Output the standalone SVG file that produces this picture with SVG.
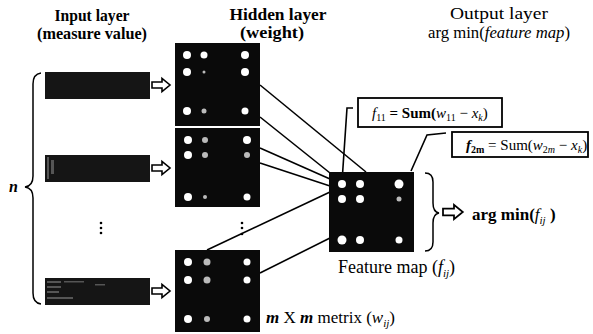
<svg xmlns="http://www.w3.org/2000/svg" width="593" height="334" viewBox="0 0 593 334">
<style>
.t{font-family:"Liberation Serif","Times New Roman",serif;fill:#000}
.b{font-weight:bold}
.i{font-style:italic}
.bar{fill:#151515}
.mat{fill:#0a0a0a}
.dot{fill:#fff}
.dim{fill:#bbb}
.ln{stroke:#000;stroke-width:1.6;fill:none}
.arr{fill:#fff;stroke:#000;stroke-width:1.6;stroke-linejoin:miter}
.box{fill:#fff;stroke:#000;stroke-width:1.8}
.br{fill:none;stroke:#000;stroke-width:1.5}
</style>
<defs>
<path id="harrow" d="M0,-3 H10 V-6.5 L18,0 L10,6.5 V3 H0 Z"/>
</defs>

<g id="headers">
<text class="t b" x="92" y="21" font-size="16" text-anchor="middle" textLength="75" lengthAdjust="spacingAndGlyphs">Input layer</text>
<text class="t b" x="92" y="39" font-size="16" text-anchor="middle" textLength="110" lengthAdjust="spacingAndGlyphs">(measure value)</text>
<text class="t b" x="278" y="20" font-size="16" text-anchor="middle" textLength="97" lengthAdjust="spacingAndGlyphs">Hidden layer</text>
<text class="t b" x="272" y="38" font-size="16" text-anchor="middle" textLength="64" lengthAdjust="spacingAndGlyphs">(weight)</text>
<text class="t" x="499" y="19" font-size="17" text-anchor="middle" textLength="98" lengthAdjust="spacingAndGlyphs">Output layer</text>
<text class="t" x="499" y="38" font-size="17" text-anchor="middle" textLength="142" lengthAdjust="spacingAndGlyphs">arg min(<tspan class="i">feature map</tspan>)</text>
</g>

<g id="connectors">
<line class="ln" x1="260" y1="85" x2="366" y2="172"/>
<line class="ln" x1="260" y1="117" x2="330" y2="173"/>
<line class="ln" x1="260" y1="148" x2="330" y2="179"/>
<line class="ln" x1="260" y1="163" x2="330" y2="186"/>
<line class="ln" x1="207" y1="250" x2="330" y2="192"/>
<line class="ln" x1="260" y1="273" x2="330" y2="238"/>
<use href="#harrow" x="152" y="85" class="arr"/>
<use href="#harrow" x="152" y="168" class="arr"/>
<use href="#harrow" x="152" y="291" class="arr"/>
<polyline class="ln" stroke-width="1.3" points="353,108 347,108 342,182"/>
<polyline class="ln" stroke-width="1.3" points="446,133 427,135 411,171"/>
<use href="#harrow" x="443" y="212" class="arr" transform="translate(443,212) scale(1.1) translate(-443,-212)"/>
</g>

<g id="input-bars">
<rect class="bar" x="45" y="72" width="105" height="27"/>
<rect class="bar" x="45" y="155" width="105" height="27"/>
<rect class="bar" x="45" y="278" width="105" height="27"/>
<g fill="#555">
<rect x="47" y="157" width="2" height="22"/><rect x="51" y="160" width="3" height="14"/>
<rect x="47" y="281" width="14" height="2"/><rect x="47" y="286" width="14" height="2"/><rect x="47" y="291" width="12" height="2"/><rect x="47" y="297" width="26" height="2"/>
<rect x="64" y="281" width="20" height="1.5"/><rect x="95" y="284" width="10" height="1.5"/>
</g>
</g>

<g id="ellipsis" fill="#000">
<circle cx="101" cy="223" r="1.3"/><circle cx="101" cy="228" r="1.3"/><circle cx="101" cy="233" r="1.3"/>
<circle cx="242" cy="223" r="1.3"/><circle cx="242" cy="228" r="1.3"/><circle cx="242" cy="234" r="1.3"/>
</g>

<g id="brace-n">
<path class="br" d="M41,73 Q33,74 33,84 V176 Q33,186 25,187 Q33,188 33,198 V293 Q33,303 41,304"/>
<text class="t b i" x="9" y="192" font-size="16">n</text>
</g>

<g id="matrix1">
<rect class="mat" x="175" y="43" width="85" height="83"/>
<circle class="dot" cx="187" cy="55" r="4"/><circle class="dot" cx="204" cy="55" r="3.5"/><circle class="dot" cx="245" cy="55" r="4"/>
<circle class="dot" cx="187" cy="72" r="4"/><circle class="dim" cx="204" cy="72" r="1.5"/><circle class="dot" cx="245" cy="72" r="4"/>
<circle class="dot" cx="187" cy="111" r="4"/><circle class="dim" cx="204" cy="111" r="2.5"/><circle class="dot" cx="245" cy="111" r="3.5"/>
</g>

<g id="matrix2">
<rect class="mat" x="175" y="128" width="85" height="79"/>
<circle class="dot" cx="188" cy="140" r="4"/><circle class="dim" cx="205" cy="140" r="3"/><circle class="dot" cx="247" cy="140" r="4"/>
<circle class="dot" cx="188" cy="155" r="4"/><circle class="dim" cx="205" cy="155" r="3"/><circle class="dim" cx="247" cy="155" r="3"/>
<circle class="dot" cx="188" cy="197" r="4"/><circle class="dim" cx="205" cy="197" r="2"/><circle class="dot" cx="247" cy="197" r="3.5"/>
</g>

<g id="matrix3">
<rect class="mat" x="175" y="250" width="85" height="82"/>
<circle class="dot" cx="188" cy="262" r="4"/><circle class="dim" cx="207" cy="262" r="3.5"/><circle class="dot" cx="247" cy="262" r="3.5"/>
<circle class="dot" cx="188" cy="280" r="4"/><circle class="dim" cx="207" cy="280" r="3.5"/><circle class="dot" cx="247" cy="280" r="3.5"/>
<circle class="dot" cx="188" cy="319" r="4"/><circle class="dim" cx="207" cy="319" r="3"/><circle class="dot" cx="247" cy="319" r="3.5"/>
</g>

<g id="feature-map">
<rect class="mat" x="329" y="172" width="85" height="80"/>
<circle class="dot" cx="342" cy="184" r="4"/><circle class="dot" cx="360" cy="184" r="4"/><circle class="dot" cx="399" cy="184" r="4.5"/>
<circle class="dot" cx="342" cy="199" r="4"/><circle class="dot" cx="360" cy="199" r="4"/><circle class="dim" cx="399" cy="199" r="2.5"/>
<circle class="dot" cx="342" cy="240" r="4.5"/><circle class="dot" cx="360" cy="240" r="4"/><circle class="dot" cx="399" cy="240" r="3.5"/>
<text class="t" x="338" y="273" font-size="18">Feature map (<tspan class="i">f</tspan><tspan class="i" font-size="11" dy="4">ij</tspan><tspan dy="-4">)</tspan></text>
</g>

<g id="output">
<path class="br" d="M425,173 Q433,173 433,182 V203 Q433,212 439,213 Q433,214 433,223 V242 Q433,251 425,251"/>
<text class="t b" x="472" y="220" font-size="17">arg min(<tspan class="i" font-weight="normal">f</tspan><tspan class="i" font-weight="normal" font-size="11" dy="4">ij</tspan><tspan dy="-4"> )</tspan></text>
</g>

<g id="callout1">
<rect class="box" x="358" y="98" width="144" height="29"/>
<text class="t" x="372" y="118" font-size="15"><tspan class="i">f</tspan><tspan font-size="10" dy="3">11</tspan><tspan dy="-3" class="b"> = Sum(</tspan><tspan class="i">w</tspan><tspan font-size="10" dy="3">11</tspan><tspan dy="-3"> − </tspan><tspan class="i">x</tspan><tspan class="i" font-size="10" dy="3">k</tspan><tspan dy="-3">)</tspan></text>
</g>

<g id="callout2">
<rect class="box" x="452" y="132" width="136" height="25"/>
<text class="t" x="466" y="150" font-size="15"><tspan class="i b">f</tspan><tspan class="b" font-size="10" dy="3">2m</tspan><tspan dy="-3"> = Sum(</tspan><tspan class="i">w</tspan><tspan font-size="10" dy="3">2</tspan><tspan class="i" font-size="10">m</tspan><tspan dy="-3"> − </tspan><tspan class="i">x</tspan><tspan class="i" font-size="10" dy="3">k</tspan><tspan dy="-3">)</tspan></text>
</g>

<g id="matrix-label">
<text class="t" x="266" y="323" font-size="17"><tspan class="b i">m</tspan> X <tspan class="b i">m</tspan> metrix (<tspan class="i">w</tspan><tspan class="i" font-size="11" dy="4">ij</tspan><tspan dy="-4">)</tspan></text>
</g>
</svg>
